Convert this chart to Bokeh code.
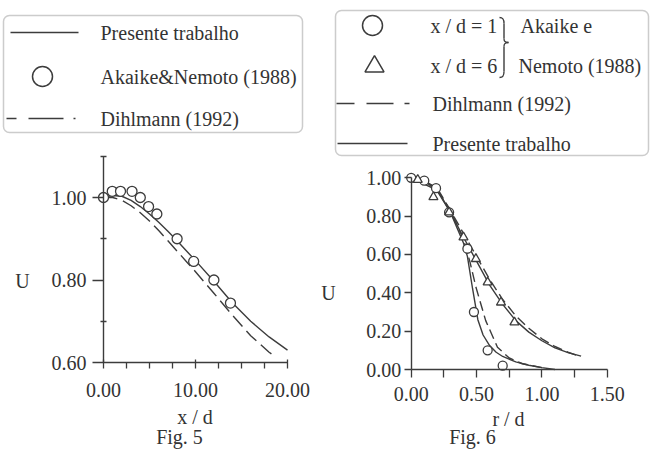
from bokeh.plotting import figure
from bokeh.models import (Range1d, FixedTicker, NumeralTickFormatter, Label,
                          BoxAnnotation, LinearAxis)
from bokeh.embed import file_html
from bokeh.resources import INLINE
from bokeh.core.properties import value

# ---------------- data: Fig. 5 (centreline velocity vs x/d) ----------------
f5_sol_x = [0, 1, 2, 3, 4, 5, 6, 7, 8, 9, 10, 12, 14, 16, 18, 20]
f5_sol_u = [1.0, 1.005, 1.003, 0.993, 0.978, 0.96, 0.94, 0.918, 0.895, 0.871, 0.847, 0.797, 0.745, 0.70, 0.662, 0.63]
f5_dih_x = [0, 1, 2, 3, 4, 5, 6, 7, 8, 9, 10, 12, 14, 16, 18, 18.6]
f5_dih_u = [1.0, 1.0, 0.993, 0.98, 0.963, 0.943, 0.92, 0.895, 0.87, 0.845, 0.82, 0.768, 0.715, 0.665, 0.625, 0.615]
f5_exp_x = [0, 0.95, 1.85, 3.1, 4.0, 4.9, 5.8, 8.0, 9.8, 12.0, 13.8]
f5_exp_u = [1.0, 1.015, 1.015, 1.015, 1.0, 0.978, 0.96, 0.90, 0.845, 0.80, 0.744]
f5_xticks = [0, 10, 20]
f5_xminor = [2.5, 5, 7.5, 12.5, 15, 17.5]
f5_yticks = [0.6, 0.8, 1.0]
f5_yminor = [0.7, 0.9, 1.1]

# ---------------- data: Fig. 6 (radial profiles) ----------------
f6_sol1_r = [0, 0.1, 0.2, 0.3, 0.35, 0.4, 0.43, 0.47, 0.51, 0.55, 0.6, 0.65, 0.7, 0.8, 0.9, 1.0, 1.1]
f6_sol1_u = [1.0, 0.985, 0.94, 0.82, 0.74, 0.66, 0.59, 0.42, 0.26, 0.18, 0.125, 0.09, 0.068, 0.04, 0.022, 0.01, 0.0]
f6_dih1_r = [0, 0.1, 0.2, 0.3, 0.4, 0.45, 0.495, 0.57, 0.66, 0.75, 0.85, 1.0]
f6_dih1_u = [1.0, 0.985, 0.945, 0.83, 0.68, 0.56, 0.43, 0.255, 0.116, 0.06, 0.03, 0.01]
f6_sol6_r = [0, 0.1, 0.2, 0.3, 0.4, 0.5, 0.6, 0.7, 0.8, 0.9, 1.0, 1.1, 1.2, 1.3]
f6_sol6_u = [1.0, 0.985, 0.93, 0.82, 0.69, 0.565, 0.44, 0.34, 0.255, 0.195, 0.15, 0.113, 0.088, 0.07]
f6_dih6_r = [0, 0.2, 0.3, 0.4, 0.5, 0.6, 0.7, 0.8, 0.9, 1.0, 1.1, 1.2, 1.29]
f6_dih6_u = [1.0, 0.935, 0.83, 0.71, 0.59, 0.47, 0.365, 0.28, 0.215, 0.16, 0.12, 0.09, 0.068]
f6_exp1_r = [0, 0.1, 0.19, 0.29, 0.43, 0.48, 0.585, 0.70]
f6_exp1_u = [1.0, 0.985, 0.946, 0.82, 0.63, 0.30, 0.10, 0.02]
f6_exp6_r = [0.05, 0.17, 0.29, 0.40, 0.495, 0.585, 0.687, 0.79]
f6_exp6_u = [0.99, 0.90, 0.82, 0.69, 0.577, 0.455, 0.35, 0.246]
f6_xticks = [0, 0.5, 1.0, 1.5]
f6_xminor = [0.25, 0.75, 1.25]
f6_yticks = [0, 0.2, 0.4, 0.6, 0.8, 1.0]

FONT = "Liberation Serif"
INK = "#333333"
LINE = "#3c3c3c"
W, H = 650, 450

# ---- page-pixel anchors of the two coordinate systems (layout only) ----
# Fig 5: x=0 at px 103, 9.2 px per unit; U=0.6 at py 362, 412.5 px per unit
def X5(px): return (px - 103) / 9.2
def Y5(py): return 0.6 + (362 - py) / 412.5
# Fig 6: r=0 at px 410.7, 130.7 px per unit; U=0 at py 369, 191.7 px per unit
def X6(px): return (px - 410.7) / 130.7
def Y6(py): return (369 - py) / 191.7

p = figure(width=W, height=H, x_range=Range1d(X5(0), X5(W)), y_range=Range1d(Y5(H), Y5(0)),
           x_axis_type=None, y_axis_type=None, output_backend="svg",
           toolbar_location=None, min_border=0)
p.extra_x_ranges = {"f6": Range1d(X6(0), X6(W))}
p.extra_y_ranges = {"f6": Range1d(Y6(H), Y6(0))}
p.outline_line_color = None
p.grid.visible = False
p.background_fill_color = "white"
p.border_fill_color = "white"


def style_axis(ax):
    ax.axis_line_color = LINE
    ax.axis_line_width = 1.4
    ax.major_tick_line_color = LINE
    ax.minor_tick_line_color = LINE
    ax.major_tick_line_width = 1.3
    ax.minor_tick_line_width = 1.3
    ax.major_label_text_font = FONT
    ax.major_label_text_font_size = "20px"
    ax.major_label_text_color = INK
    ax.formatter = NumeralTickFormatter(format="0.00")


def label(x, y, s, size="20px", rng=None):
    kw = dict(x=x, y=y, text=s, text_align="center", text_baseline="middle",
              text_font=FONT, text_font_size=size, text_color=INK)
    if rng:
        kw.update(x_range_name=rng, y_range_name=rng)
    p.add_layout(Label(**kw))


def txt(x, y, s, size="20px", rng="default"):
    p.text(x=[x], y=[y], text=[s], text_font=value(FONT), text_font_size=size,
           text_color=INK, text_baseline="middle", text_align="left",
           x_range_name=rng, y_range_name=rng)


# ================= Fig. 5 =================
ax5x = LinearAxis(fixed_location=0.6, bounds=(0, 20),
                  ticker=FixedTicker(ticks=f5_xticks, minor_ticks=f5_xminor))
style_axis(ax5x)
ax5x.major_tick_out = 6
ax5x.major_tick_in = 3
ax5x.minor_tick_out = 6
ax5x.minor_tick_in = 0
ax5x.major_label_standoff = 14
p.add_layout(ax5x, "below")

ax5y = LinearAxis(fixed_location=0, bounds=(0.6, 1.1),
                  ticker=FixedTicker(ticks=f5_yticks, minor_ticks=f5_yminor))
style_axis(ax5y)
ax5y.major_tick_out = 11
ax5y.major_tick_in = 0
ax5y.minor_tick_out = 3
ax5y.minor_tick_in = 3
ax5y.major_label_standoff = 6
p.add_layout(ax5y, "left")

p.line(f5_sol_x, f5_sol_u, line_color=LINE, line_width=1.4)
p.line(f5_dih_x, f5_dih_u, line_color=LINE, line_width=1.4, line_dash="14 6")
p.scatter(f5_exp_x, f5_exp_u, marker="circle", size=10, fill_color="white",
          line_color=LINE, line_width=1.3)

label(X5(194.5), Y5(416), "x / d")
label(X5(179), Y5(436), "Fig. 5")
label(X5(22), Y5(280), "U")

# legend of Fig. 5 (positions in page pixels)
p.add_layout(BoxAnnotation(left=X5(3), right=X5(302), top=Y5(15), bottom=Y5(132), fill_alpha=0,
                           line_color="#555555", line_width=1.5, border_radius=6))
p.line([X5(10), X5(78)], [Y5(32), Y5(32)], line_color=LINE, line_width=1.5)
txt(X5(100), Y5(32), "Presente trabalho")
p.scatter([X5(42)], [Y5(76)], marker="circle", size=20, fill_color=None, line_color=LINE, line_width=1.5)
txt(X5(100), Y5(76), "Akaike&Nemoto (1988)")
p.line([X5(6), X5(80)], [Y5(118), Y5(118)], line_color=LINE, line_width=1.5, line_dash="10 12 35 10 2 10")
txt(X5(100), Y5(118), "Dihlmann (1992)")

# ================= Fig. 6 =================
ax6x = LinearAxis(x_range_name="f6", y_range_name="f6", fixed_location=0, bounds=(0, 1.5),
                  ticker=FixedTicker(ticks=f6_xticks, minor_ticks=f6_xminor))
style_axis(ax6x)
ax6x.major_tick_out = 8
ax6x.major_tick_in = 0
ax6x.minor_tick_out = 8
ax6x.minor_tick_in = 0
ax6x.major_label_standoff = 9
p.add_layout(ax6x, "below")

ax6y = LinearAxis(x_range_name="f6", y_range_name="f6", fixed_location=0, bounds=(0, 1.0),
                  ticker=FixedTicker(ticks=f6_yticks, minor_ticks=[]))
style_axis(ax6y)
ax6y.major_tick_out = 7
ax6y.major_tick_in = 0
ax6y.major_label_standoff = 3
p.add_layout(ax6y, "left")

g6 = dict(x_range_name="f6", y_range_name="f6")
p.line(f6_sol1_r, f6_sol1_u, line_color=LINE, line_width=1.4, **g6)
p.line(f6_dih1_r, f6_dih1_u, line_color=LINE, line_width=1.4, line_dash="10 5", **g6)
p.line(f6_sol6_r, f6_sol6_u, line_color=LINE, line_width=1.4, **g6)
p.line(f6_dih6_r, f6_dih6_u, line_color=LINE, line_width=1.4, line_dash="10 5", **g6)
p.scatter(f6_exp1_r, f6_exp1_u, marker="circle", size=9, fill_color="white",
          line_color=LINE, line_width=1.3, **g6)
p.scatter(f6_exp6_r, f6_exp6_u, marker="triangle", size=9, fill_color="white",
          line_color=LINE, line_width=1.3, **g6)

label(X6(508), Y6(418), "r / d", rng="f6")
label(X6(472), Y6(436), "Fig. 6", size="20px", rng="f6")
label(X6(328), Y6(292), "U", rng="f6")

# legend of Fig. 6 (positions in page pixels)
p.add_layout(BoxAnnotation(left=X6(335), right=X6(648), top=Y6(10), bottom=Y6(155), fill_alpha=0,
                           line_color="#555555", line_width=1.5, border_radius=6, **g6))
p.scatter([X6(372)], [Y6(25)], marker="circle", size=20, fill_color=None, line_color=LINE,
          line_width=1.5, **g6)
txt(X6(430), Y6(25), "x / d = 1", rng="f6")
txt(X6(520), Y6(25), "Akaike e", rng="f6")
p.scatter([X6(374)], [Y6(66)], marker="triangle", size=19, fill_color=None, line_color=LINE,
          line_width=1.5, **g6)
txt(X6(430), Y6(65), "x / d = 6", rng="f6")
txt(X6(518), Y6(65), "Nemoto (1988)", rng="f6")
# brace joining the two x/d entries
bx0, bx1, bx2 = X6(499), X6(503.5), X6(508)
p.bezier(x0=[bx0, bx2], y0=[Y6(17), Y6(42)], x1=[bx1, bx1], y1=[Y6(23), Y6(46)],
         cx0=[bx1 - 0.005, bx1], cx1=[bx1, bx1], cy0=[Y6(17), Y6(42)], cy1=[Y6(19), Y6(44)],
         line_color=LINE, line_width=1.4, **g6)
p.bezier(x0=[bx1, bx1], y0=[Y6(38), Y6(71)], x1=[bx2, bx0], y1=[Y6(42), Y6(77)],
         cx0=[bx1, bx1], cx1=[bx1, bx1 - 0.005], cy0=[Y6(40), Y6(75)], cy1=[Y6(42), Y6(77)],
         line_color=LINE, line_width=1.4, **g6)
p.segment(x0=[bx1, bx1], y0=[Y6(23), Y6(46)], x1=[bx1, bx1], y1=[Y6(38), Y6(71)],
          line_color=LINE, line_width=1.4, **g6)
p.line([X6(336), X6(409)], [Y6(103), Y6(103)], line_color=LINE, line_width=1.5,
       line_dash="18 12 27 11 5 6", **g6)
txt(X6(432), Y6(103), "Dihlmann (1992)", rng="f6")
p.line([X6(337), X6(407)], [Y6(143), Y6(143)], line_color=LINE, line_width=1.5, **g6)
txt(X6(432), Y6(143), "Presente trabalho", rng="f6")

open("out.html", "w").write(file_html(p, INLINE))
